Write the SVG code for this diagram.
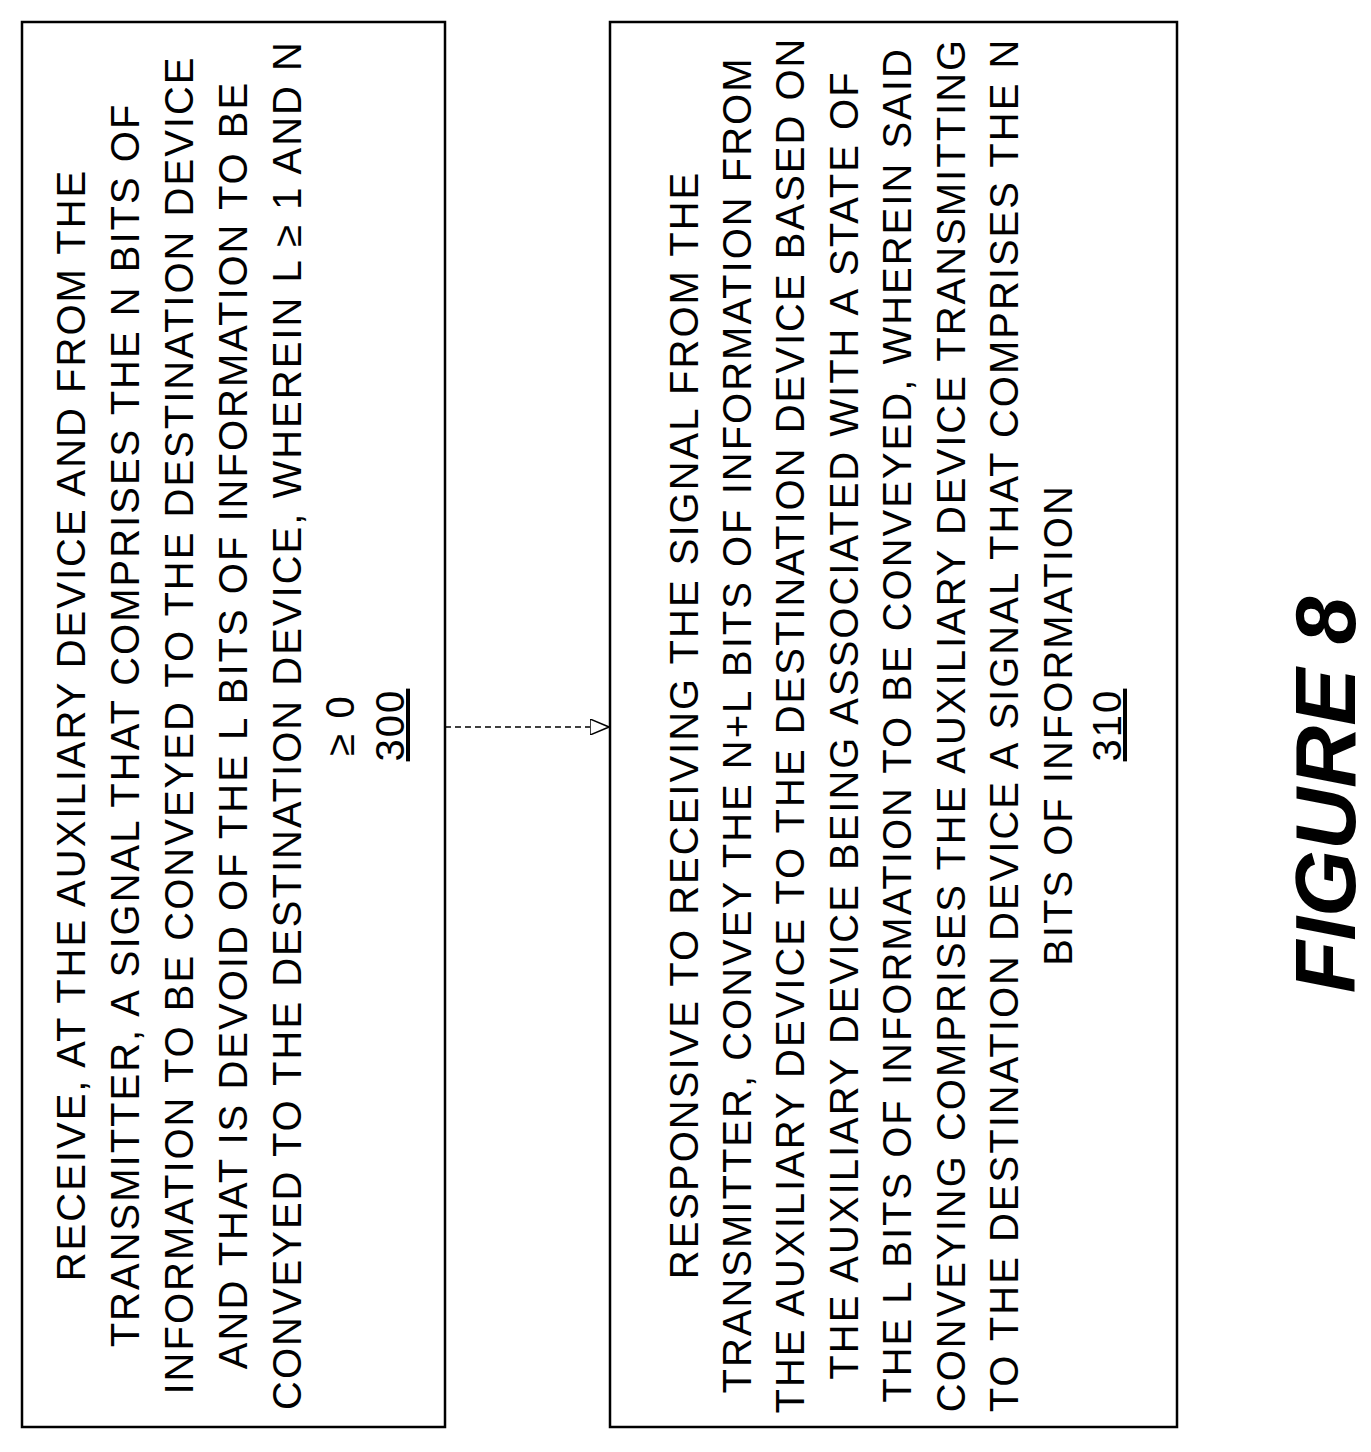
<svg xmlns="http://www.w3.org/2000/svg" width="1371" height="1452" viewBox="0 0 1371 1452">
<style>
.b{fill:#fff;stroke:#000;stroke-width:2.5}
.t{font-family:"Liberation Sans",Arial,sans-serif;font-size:40px;letter-spacing:2px;text-anchor:middle;fill:#000}
</style>
<defs><marker id="a" markerWidth="20" markerHeight="16" refX="19" refY="8" orient="auto" markerUnits="userSpaceOnUse"><path d="M0,0 L19,8 L0,16 Z" fill="#fff" stroke="#000" stroke-width="1.5"/></marker></defs>
<rect width="1371" height="1452" fill="#fff"/>
<g id="n300">
<rect class="b" x="22" y="22" width="423" height="1405"/>
<g class="t">
<text transform="translate(85,725) rotate(-90)">RECEIVE, AT THE AUXILIARY DEVICE AND FROM THE</text>
<text transform="translate(139,725) rotate(-90)">TRANSMITTER, A SIGNAL THAT COMPRISES THE N BITS OF</text>
<text transform="translate(193,725) rotate(-90)">INFORMATION TO BE CONVEYED TO THE DESTINATION DEVICE</text>
<text transform="translate(247,725) rotate(-90)">AND THAT IS DEVOID OF THE L BITS OF INFORMATION TO BE</text>
<text transform="translate(301,725) rotate(-90)">CONVEYED TO THE DESTINATION DEVICE, WHEREIN L ≥ 1 AND N</text>
<text transform="translate(354,725) rotate(-90)">≥ 0</text>
<text transform="translate(404,725) rotate(-90)" text-decoration="underline">300</text>
</g>
</g>
<g id="n310">
<rect class="b" x="610" y="22" width="567" height="1405"/>
<g class="t">
<text transform="translate(698,725) rotate(-90)">RESPONSIVE TO RECEIVING THE SIGNAL FROM THE</text>
<text transform="translate(751,725) rotate(-90)">TRANSMITTER, CONVEY THE N+L BITS OF INFORMATION FROM</text>
<text transform="translate(804,725) rotate(-90)">THE AUXILIARY DEVICE TO THE DESTINATION DEVICE BASED ON</text>
<text transform="translate(858,725) rotate(-90)">THE AUXILIARY DEVICE BEING ASSOCIATED WITH A STATE OF</text>
<text transform="translate(911,725) rotate(-90)">THE L BITS OF INFORMATION TO BE CONVEYED, WHEREIN SAID</text>
<text transform="translate(965,725) rotate(-90)">CONVEYING COMPRISES THE AUXILIARY DEVICE TRANSMITTING</text>
<text transform="translate(1018,725) rotate(-90)">TO THE DESTINATION DEVICE A SIGNAL THAT COMPRISES THE N</text>
<text transform="translate(1072,725) rotate(-90)">BITS OF INFORMATION</text>
<text transform="translate(1121,725) rotate(-90)" text-decoration="underline">310</text>
</g>
</g>
<g id="connectors">
<line x1="445" y1="727" x2="609" y2="727" stroke="#000" stroke-width="1.5" stroke-dasharray="6,4" marker-end="url(#a)"/>
</g>
<text transform="translate(1355,795) rotate(-90)" font-family="Liberation Sans,Arial,sans-serif" font-size="86" font-weight="bold" font-style="italic" text-anchor="middle">FIGURE 8</text>
</svg>
